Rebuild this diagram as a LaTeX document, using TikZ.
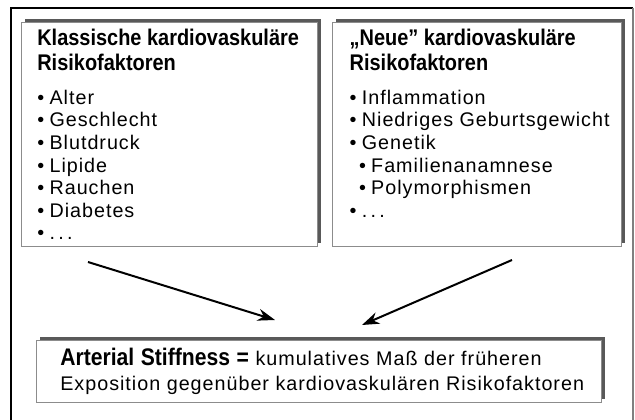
\documentclass[tikz,border=0pt]{standalone}
\usepackage{fontspec}
\setmainfont{Liberation Sans}[LetterSpace=5]
\newfontfamily\headfont{Liberation Sans}[FakeStretch=0.88]
\usetikzlibrary{shadows,arrows.meta}

\newcommand{\titlefont}{\headfont\bfseries\fontsize{17}{18.75}\selectfont}
\newcommand{\itemfont}{\fontsize{14.8}{16.9}\selectfont}
\newcommand{\rf}[1]{\mbox{\textbullet\hspace{4pt}#1}}

\begin{document}
\begin{tikzpicture}[x=0.75pt,y=0.75pt,yscale=-1,xscale=1]
	\tikzset{
		riskbox/.style={draw=black!45, line width=0.5pt, fill=white, anchor=north west,
			inner xsep=12pt, inner ysep=5pt,
			drop shadow={shadow xshift=2.8pt, shadow yshift=2.8pt, fill=black!65, opacity=1}},
		flow/.style={line width=1.5pt, -{Stealth[length=13pt, width=9pt]}}
	}
	\useasboundingbox (0,0) rectangle (635,420);
	
	% outer frame
	\draw [line width=0.8pt] (11,420) -- (11,8) -- (633,8) ;
	\draw [line width=0.8pt, black!50] (633,8) -- (633,420) ;
	
	% Classic factors
	\node [riskbox] (cls) at (21,22) {\parbox[t][158pt][t]{198pt}{%
			{\titlefont Klassische kardiovaskuläre\\Risikofaktoren\par}
			\vspace{8.6pt}
			{\itemfont \rf{Alter}\\\rf{Geschlecht}\\\rf{Blutdruck}\\\rf{Lipide}\\\rf{Rauchen}\\\rf{Diabetes}\\\rf{.\,.\,.}\par}}};
	% New factors
	\node [riskbox, inner xsep=13pt] (new) at (332,22) {\parbox[t][158pt][t]{191pt}{%
			{\titlefont „Neue” kardiovaskuläre\\Risikofaktoren\par}
			\vspace{8.6pt}
			{\itemfont \rf{Inflammation}\\\rf{Niedriges Geburtsgewicht}\\\rf{Genetik}\\
				\hspace*{7pt}\rf{Familienanamnese}\\\hspace*{7pt}\rf{Polymorphismen}\\\rf{.\,.\,.}\par}}};
	% Arterial stiffness
	\node [riskbox, inner xsep=12pt, inner ysep=0pt, minimum height=46.5pt, align=left,
		text width=400pt, font=\itemfont\linespread{1.07}\selectfont] (stiff) at (36,340)
		{\hspace*{6pt}{\titlefont\fontsize{18}{18.75}\selectfont Arterial Stiffness =} kumulatives Maß der früheren\\\hspace*{6pt}Exposition gegenüber kardiovaskulären Risikofaktoren};
	
	% Connection
	\coordinate (clsfoot) at (88,262);
	\coordinate (newfoot) at (512,260);
	\coordinate (stiffl) at (275,320);
	\coordinate (stiffr) at (362,325);
	\draw [flow] (clsfoot) -- (stiffl) ;
	\draw [flow] (newfoot) -- (stiffr) ;
	
\end{tikzpicture}
\end{document}
